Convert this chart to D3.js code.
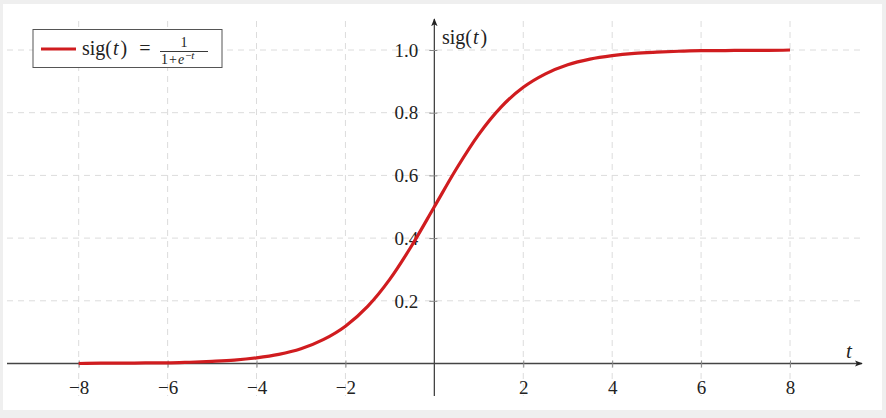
<!DOCTYPE html>
<html>
<head>
<meta charset="utf-8">
<script src="https://cdn.jsdelivr.net/npm/d3@7"></script>
<style>
  html, body { margin: 0; padding: 0; background: #efefef; }
  svg { display: block; }
  text { font-family: "Liberation Serif", "Times New Roman", serif; fill: #222; }
</style>
</head>
<body>
<svg id="chart" width="886" height="418"></svg>
<script>
// ---- data ----
const tValues = [-8,-7.5,-7,-6.5,-6,-5.5,-5,-4.5,-4,-3.5,-3,-2.5,-2,-1.5,-1,-0.5,0,0.5,1,1.5,2,2.5,3,3.5,4,4.5,5,5.5,6,6.5,7,7.5,8];
const sigValues = [0.000,0.001,0.001,0.002,0.002,0.004,0.007,0.011,0.018,0.029,0.047,0.076,0.119,0.182,0.269,0.378,0.500,0.622,0.731,0.818,0.881,0.924,0.953,0.971,0.982,0.989,0.993,0.996,0.998,0.998,0.999,0.999,1.000];
const xTicks = [-8,-6,-4,-2,2,4,6,8];
const yTicks = [0.2,0.4,0.6,0.8,1.0];
const yTickLabels = ["0.2","0.4","0.6","0.8","1.0"];

const svg = d3.select("#chart");
svg.append("rect").attr("x",3).attr("y",4).attr("width",879).attr("height",406).attr("fill","#fff");

const x = d3.scaleLinear().domain([-8, 8]).range([78.7, 790]);
const y = d3.scaleLinear().domain([0, 1]).range([363.5, 50]);

const xMin = x.invert(7), xMax = x.invert(862);
const yMin = y.invert(396), yMax = y.invert(19);

// grid
const grid = svg.append("g").attr("stroke","#dcdcdc").attr("stroke-width",1).attr("stroke-dasharray","6,5").attr("fill","none");
xTicks.forEach(t => {
  grid.append("line").attr("x1",x(t)).attr("x2",x(t)).attr("y1",y(yMax)+2).attr("y2",y(yMin));
});
yTicks.forEach(v => {
  grid.append("line").attr("x1",x(xMin)).attr("x2",x(xMax)).attr("y1",y(v)).attr("y2",y(v));
});

// axes
const axisColor = "#444";
const defs = svg.append("defs");
defs.append("marker").attr("id","arr").attr("viewBox","0 0 10 10").attr("refX",9).attr("refY",5)
  .attr("markerWidth",8).attr("markerHeight",8).attr("orient","auto-start-reverse").attr("markerUnits","userSpaceOnUse")
  .append("path").attr("d","M0,1 L10,5 L0,9 L2.5,5 Z").attr("fill","#222");

svg.append("line").attr("x1",x(xMin)).attr("x2",x(xMax)).attr("y1",y(0)).attr("y2",y(0))
  .attr("stroke",axisColor).attr("stroke-width",1.3).attr("marker-end","url(#arr)");
svg.append("line").attr("x1",x(0)).attr("x2",x(0)).attr("y1",y(yMin)).attr("y2",y(yMax))
  .attr("stroke",axisColor).attr("stroke-width",1.3).attr("marker-end","url(#arr)");

// x ticks
const xAxis = d3.axisBottom(x).tickValues(xTicks).tickSize(0).tickPadding(0)
  .tickFormat(d => d < 0 ? "\u2212" + Math.abs(d) : String(d));
const gx = svg.append("g").attr("transform",`translate(0,${y(0)})`).call(xAxis);
gx.select(".domain").remove();
gx.selectAll(".tick text").attr("font-size",19).attr("dy",0).attr("y",30).attr("fill","#222")
  .style("font-family","'Liberation Serif', serif");
gx.selectAll(".tick").append("line").attr("y1",-3).attr("y2",4).attr("stroke","#888").attr("stroke-width",1);

// y ticks
const yAxis = d3.axisLeft(y).tickValues(yTicks).tickSize(0).tickPadding(0)
  .tickFormat((d,i) => yTickLabels[i]);
const gy = svg.append("g").attr("transform",`translate(${x(0)},0)`).call(yAxis);
gy.select(".domain").remove();
gy.selectAll(".tick text").attr("font-size",19).attr("x",-16).attr("dy","0.33em").attr("fill","#222")
  .style("font-family","'Liberation Serif', serif");
gy.selectAll(".tick").append("line").attr("x1",-5).attr("x2",3).attr("stroke","#888").attr("stroke-width",1);

// axis labels
const yl = svg.append("text").attr("x",442).attr("y",44).attr("font-size",20);
yl.append("tspan").text("sig(");
yl.append("tspan").attr("font-style","italic").attr("dx",1).text("t");
yl.append("tspan").attr("dx",2).text(")");
svg.append("text").attr("x",846).attr("y",358).attr("font-size",21).attr("font-style","italic").text("t");

// curve
const pts = tValues.map((t,i) => [t, sigValues[i]]);
const line = d3.line().x(d => x(d[0])).y(d => y(d[1])).curve(d3.curveMonotoneX);
svg.append("path").datum(pts).attr("d",line).attr("fill","none").attr("stroke","#d01c1f").attr("stroke-width",3.2);

// legend
const lg = svg.append("g");
lg.append("rect").attr("x",33).attr("y",29.5).attr("width",189).attr("height",38).attr("fill","#fff").attr("stroke","#555").attr("stroke-width",1);
lg.append("line").attr("x1",41).attr("x2",76).attr("y1",49).attr("y2",49).attr("stroke","#d01c1f").attr("stroke-width",3.2);
const lt = lg.append("text").attr("x",82).attr("y",55).attr("font-size",20);
lt.append("tspan").text("sig(");
lt.append("tspan").attr("font-style","italic").attr("dx",1).text("t");
lt.append("tspan").attr("dx",2).text(")");
lg.append("text").attr("x",145).attr("y",55).attr("font-size",20).attr("text-anchor","middle").text("=");
lg.append("text").attr("x",184).attr("y",47).attr("font-size",14).attr("text-anchor","middle").text("1");
lg.append("line").attr("x1",160).attr("x2",208).attr("y1",51.5).attr("y2",51.5).attr("stroke","#222").attr("stroke-width",0.9);
const den = lg.append("text").attr("x",161).attr("y",64).attr("font-size",14);
den.append("tspan").text("1");
den.append("tspan").attr("dx",1).text("+");
den.append("tspan").attr("dx",1).attr("font-style","italic").text("e");
den.append("tspan").attr("font-size",11).attr("dy",-5).attr("dx",1).text("\u2212");
den.append("tspan").attr("font-size",11).attr("font-style","italic").text("t");
</script>
</body>
</html>
